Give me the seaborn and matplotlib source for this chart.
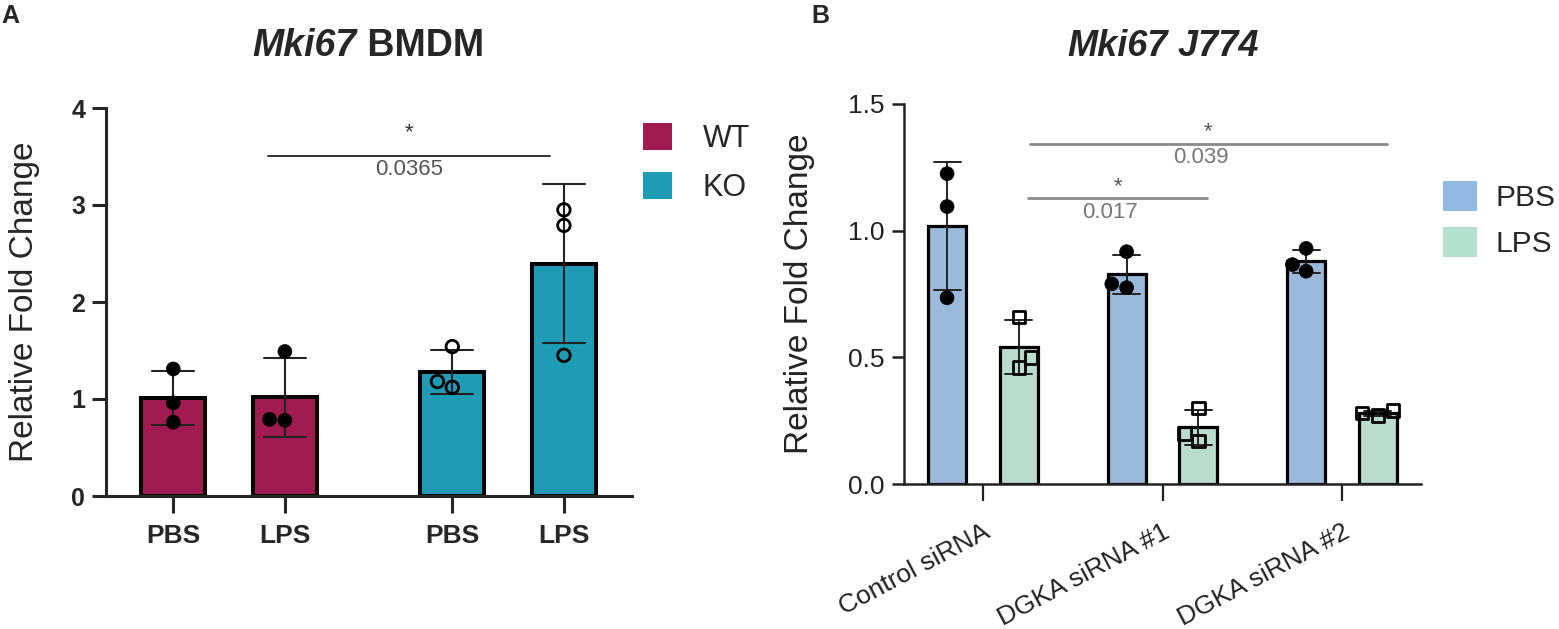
import pandas as pd
import matplotlib
matplotlib.use("Agg")
import matplotlib.pyplot as plt
from matplotlib.patches import Patch
import seaborn as sns

# --- panel A: Mki67 in BMDM (three replicates per condition) ---
genotypes_a = ["WT", "KO"]
treatments = ["PBS", "LPS"]
wt_pbs = [1.31, 0.96, 0.76]
wt_lps = [1.49, 0.78, 0.79]
ko_pbs = [1.54, 1.12, 1.18]
ko_lps = [2.95, 2.79, 1.45]
p_a = "0.0365"

# --- panel B: Mki67 in J774 ---
sirnas = ["Control siRNA", "DGKA siRNA #1", "DGKA siRNA #2"]
pbs_b = [[1.225, 1.095, 0.735], [0.917, 0.775, 0.79], [0.93, 0.84, 0.866]]
lps_b = [[0.66, 0.50, 0.46], [0.30, 0.17, 0.20], [0.29, 0.28, 0.27]]
p_b = ["0.017", "0.039"]

colors_a = {"WT": "#a01b50", "KO": "#1f9bb5"}
colors_b = {"PBS": "#93b9e3", "LPS": "#b4e0cf"}

rows = []
for g, t, vals in [("WT", "PBS", wt_pbs), ("WT", "LPS", wt_lps),
                   ("KO", "PBS", ko_pbs), ("KO", "LPS", ko_lps)]:
    for v in vals:
        rows.append({"genotype": g, "treatment": t, "value": v})
df_a = pd.DataFrame(rows)

rows = []
for s, pv, lv in zip(sirnas, pbs_b, lps_b):
    for v in pv:
        rows.append({"sirna": s, "treatment": "PBS", "value": v})
    for v in lv:
        rows.append({"sirna": s, "treatment": "LPS", "value": v})
df_b = pd.DataFrame(rows)

sns.set_style("ticks")
plt.rcParams["font.family"] = ["Liberation Sans", "DejaVu Sans"]

W, H = 1559, 629
fig = plt.figure(figsize=(W / 100, H / 100), dpi=100)


def px_axes(left, right, bottom_y, top_y):
    # pixel box (top-left origin) -> figure fraction
    return fig.add_axes([left / W, 1 - bottom_y / H, (right - left) / W, (bottom_y - top_y) / H])


def bar_centers(ax, n_before):
    return sorted(p.get_x() + p.get_width() / 2 for p in ax.patches[n_before:])


def swarm(ax, data, x, order, palette, marker, hollow, size):
    n0 = len(ax.collections)
    sns.swarmplot(data=data, x=x, y="value", order=order, hue="treatment",
                  hue_order=treatments, dodge=True, palette=palette,
                  marker=marker, size=size, legend=False, ax=ax)
    for c in ax.collections[n0:]:
        if hollow:
            c.set_facecolor("none")
            c.set_edgecolor("black")
            c.set_linewidth(2.0)
        else:
            c.set_edgecolor("black")
            c.set_linewidth(0.5)


# ================= Panel A =================
axA = px_axes(106, 632, 496, 108)
sns.barplot(data=df_a, x="genotype", y="value", order=genotypes_a, hue="treatment",
            hue_order=treatments, errorbar="sd", capsize=0.3, gap=0.43,
            edgecolor="black", linewidth=2.9, legend=False,
            err_kws={"color": "#222222", "linewidth": 1.5}, ax=axA)
centers_a = bar_centers(axA, 0)
for p in axA.patches:
    cx = p.get_x() + p.get_width() / 2
    p.set_facecolor(colors_a[genotypes_a[int(round(cx))]])

black = {t: "black" for t in treatments}
swarm(axA, df_a[df_a.genotype == "WT"], "genotype", genotypes_a, black, "o", False, 10)
swarm(axA, df_a[df_a.genotype == "KO"], "genotype", genotypes_a, black, "o", True, 9)

axA.set_xlim(-0.441, 1.444)
axA.set_ylim(0, 4)
axA.set_yticks([0, 1, 2, 3, 4])
axA.set_xticks(centers_a)
axA.set_xticklabels(treatments * 2)
axA.set_xlabel("")
axA.set_ylabel("Relative Fold Change", fontsize=24)
axA.yaxis.set_label_coords(-0.125, 0.5)
axA.tick_params(axis="y", labelsize=18, length=10, width=2.2, pad=5)
axA.tick_params(axis="x", labelsize=19, length=12, width=2.2, pad=8)
for lab in axA.get_xticklabels() + axA.get_yticklabels():
    lab.set_fontweight("bold")
for s in ["left", "bottom"]:
    axA.spines[s].set_linewidth(2.2)
sns.despine(ax=axA)

# significance bracket WT LPS vs KO LPS
x1, x2 = centers_a[1] - 0.06, centers_a[3] - 0.05
axA.plot([x1, x2], [3.505, 3.505], color="#333333", linewidth=1.4, clip_on=False)
axA.text((x1 + x2) / 2, 3.75, "*", ha="center", va="center", fontsize=16, color="#333333")
axA.text((x1 + x2) / 2, 3.37, p_a, ha="center", va="center", fontsize=16, color="#555555")

axA.legend(handles=[Patch(facecolor=colors_a[g], edgecolor="none") for g in genotypes_a],
           labels=genotypes_a, loc="upper left", bbox_to_anchor=(643 / W, 1 - 123 / H),
           bbox_transform=fig.transFigure, frameon=False, fontsize=22, borderpad=0,
           borderaxespad=0, handlelength=0.95, handleheight=0.98, handletextpad=1.0,
           labelspacing=0.6)

# ================= Panel B =================
axB = px_axes(904, 1421, 484, 104)
sns.barplot(data=df_b, x="sirna", y="value", order=sirnas, hue="treatment",
            hue_order=treatments, palette=colors_b, errorbar="sd", capsize=0.3, gap=0.47,
            edgecolor="black", linewidth=2.3, legend=False,
            err_kws={"color": "#222222", "linewidth": 1.4}, ax=axB)
centers_b = bar_centers(axB, 0)
swarm(axB, df_b[df_b.treatment == "PBS"], "sirna", sirnas, black, "o", False, 10)
swarm(axB, df_b[df_b.treatment == "LPS"], "sirna", sirnas, black, "s", True, 9)

axB.set_xlim(-0.44, 2.44)
axB.set_ylim(0, 1.5)
axB.set_yticks([0, 0.5, 1.0, 1.5])
axB.set_yticklabels(["0.0", "0.5", "1.0", "1.5"])
axB.set_xticks(range(len(sirnas)))
axB.set_xticklabels(sirnas, rotation=28, ha="right", rotation_mode="anchor")
axB.set_xlabel("")
axB.set_ylabel("Relative Fold Change", fontsize=24, color="#222222")
axB.yaxis.set_label_coords(-0.172, 0.5)
axB.tick_params(axis="y", labelsize=19, length=9, width=1.8, pad=5, colors="#222222")
axB.tick_params(axis="x", labelsize=19, length=12, width=1.6, pad=14, colors="#222222")
for s in ["left", "bottom"]:
    axB.spines[s].set_linewidth(1.8)
    axB.spines[s].set_color("#222222")
sns.despine(ax=axB)

# lps bars sit at odd positions in the sorted list
lps_c = centers_b[1::2]
for (xa, xb), y, p in [((lps_c[0] + 0.05, lps_c[1] + 0.05), 1.127, p_b[0]),
                       ((lps_c[0] + 0.06, lps_c[2] + 0.05), 1.344, p_b[1])]:
    axB.plot([xa, xb], [y, y], color="#8a8a8a", linewidth=2.0, clip_on=False)
    axB.text((xa + xb) / 2, y + 0.045, "*", ha="center", va="center", fontsize=16, color="#555555")
    axB.text((xa + xb) / 2 - 0.04, y - 0.055, p, ha="center", va="center", fontsize=16, color="#777777")

axB.legend(handles=[Patch(facecolor=colors_b[t], edgecolor="none") for t in treatments],
           labels=treatments, loc="upper left", bbox_to_anchor=(1443 / W, 1 - 181 / H),
           bbox_transform=fig.transFigure, frameon=False, fontsize=21.5, borderpad=0,
           borderaxespad=0, handlelength=1.15, handleheight=1.15, handletextpad=0.6,
           labelspacing=0.5)


# ================= titles and panel letters =================
def two_part_title(xc, yc, first, rest, size, rest_style):
    t1 = fig.text(0, 1 - yc / H, first, fontsize=size, fontstyle="italic",
                  fontweight="bold", va="center")
    t2 = fig.text(0, 1 - yc / H, rest, fontsize=size, fontstyle=rest_style,
                  fontweight="bold", va="center")
    r = fig.canvas.get_renderer()
    w1 = t1.get_window_extent(r).width
    w2 = t2.get_window_extent(r).width
    x0 = xc - (w1 + w2) / 2
    t1.set_x(x0 / W)
    t2.set_x((x0 + w1) / W)


two_part_title(368, 46, "Mki67", " BMDM", 27, "normal")
two_part_title(1163, 46, "Mki67", " J774", 26, "italic")

fig.text(1 / W, 1 - 16 / H, "A", fontsize=18, fontweight="bold", va="center")
fig.text(811 / W, 1 - 16 / H, "B", fontsize=18, fontweight="bold", va="center")

fig.savefig("out.png", dpi=100)
